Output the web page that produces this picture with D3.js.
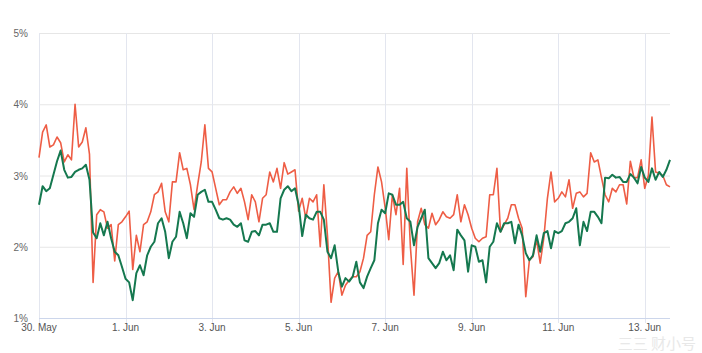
<!DOCTYPE html>
<html>
<head>
<meta charset="utf-8">
<script src="https://cdn.jsdelivr.net/npm/d3@7"></script>
<style>
  body { margin: 0; background: #fff; }
  svg { font-family: "Liberation Sans", Arial, sans-serif; }
</style>
</head>
<body>
<svg id="chart" width="702" height="353"></svg>
<script>
// 2-hourly readings starting 30 May 00:00
let startTime = new Date(2022, 4, 30, 0, 0);
let stepHours = 2;

let redSeries = [
  3.25, 3.61, 3.71, 3.40, 3.43, 3.54, 3.46, 3.19, 3.29, 3.22, 4.00, 3.40,
  3.47, 3.67, 3.30, 1.50, 2.45, 2.52, 2.49, 2.26, 2.31, 1.80, 2.31, 2.35,
  2.42, 2.50, 1.68, 2.16, 1.93, 2.31, 2.35, 2.49, 2.73, 2.77, 2.89, 2.49,
  2.35, 2.91, 2.91, 3.32, 3.08, 3.10, 2.87, 2.52, 2.87, 3.19, 3.71, 3.10,
  3.05, 2.82, 2.59, 2.66, 2.66, 2.77, 2.84, 2.75, 2.82, 2.63, 2.38, 2.73,
  2.63, 2.35, 2.68, 2.73, 3.05, 2.91, 3.10, 2.82, 3.18, 3.02, 3.05, 3.08,
  2.50, 2.68, 2.40, 2.68, 2.63, 2.73, 2.00, 2.87, 2.16, 1.22, 1.56, 1.65,
  1.32, 1.46, 1.53, 1.58, 1.58, 1.65, 1.84, 2.16, 2.21, 2.73, 3.12, 2.91,
  2.55, 2.10, 2.73, 2.45, 2.82, 1.75, 3.10, 2.00, 1.32, 2.35, 2.54, 2.31,
  2.26, 2.47, 2.31, 2.38, 2.49, 2.42, 2.40, 2.45, 2.73, 2.35, 2.59, 2.45,
  2.26, 2.12, 2.07, 2.12, 2.14, 2.73, 2.73, 3.10, 2.21, 2.31, 2.40, 2.59,
  2.59, 2.40, 2.26, 1.30, 1.81, 1.86, 2.10, 1.77, 2.12, 2.68, 3.05, 2.63,
  2.68, 2.77, 2.70, 2.94, 2.54, 2.75, 2.77, 2.70, 2.75, 3.32, 3.19, 3.22,
  2.97, 2.73, 2.63, 2.82, 2.77, 2.87, 2.87, 2.60, 3.20, 2.97, 2.97, 3.22,
  2.82, 3.00, 3.82, 3.05, 3.03, 3.00, 2.87, 2.84
];

let greenSeries = [
  2.59, 2.85, 2.78, 2.82, 3.01, 3.20, 3.35, 3.08, 2.97, 2.98, 3.05, 3.08,
  3.10, 3.15, 2.94, 2.20, 2.12, 2.33, 2.16, 2.35, 2.12, 1.93, 1.88, 1.72,
  1.55, 1.50, 1.25, 1.63, 1.74, 1.60, 1.88, 2.00, 2.07, 2.33, 2.40, 2.21,
  1.84, 2.07, 2.14, 2.49, 2.33, 2.12, 2.47, 2.42, 2.73, 2.77, 2.80, 2.63,
  2.63, 2.52, 2.40, 2.38, 2.40, 2.38, 2.31, 2.28, 2.33, 2.09, 2.07, 2.21,
  2.22, 2.16, 2.31, 2.31, 2.33, 2.21, 2.21, 2.68, 2.80, 2.85, 2.78, 2.82,
  2.59, 2.15, 2.45, 2.40, 2.38, 2.49, 2.49, 2.38, 1.93, 1.84, 2.02, 1.65,
  1.44, 1.56, 1.51, 1.58, 1.79, 1.50, 1.42, 1.58, 1.70, 1.81, 2.33, 2.52,
  2.47, 2.75, 2.73, 2.59, 2.59, 2.63, 2.40, 2.35, 2.02, 2.28, 2.40, 2.52,
  1.84, 1.77, 1.70, 1.77, 1.93, 1.81, 1.88, 1.67, 2.24, 2.16, 2.09, 1.65,
  2.02, 2.00, 1.79, 1.81, 1.50, 2.00, 2.07, 2.33, 2.21, 2.33, 2.33, 2.35,
  2.05, 2.31, 2.16, 1.91, 1.81, 1.88, 2.16, 1.93, 2.19, 2.22, 1.98, 2.22,
  2.19, 2.22, 2.33, 2.35, 2.40, 2.54, 2.02, 2.35, 2.22, 2.49, 2.49, 2.42,
  2.33, 2.97, 2.96, 3.01, 2.97, 2.98, 2.91, 2.91, 3.02, 2.97, 2.89, 3.12,
  2.97, 2.91, 3.10, 2.94, 3.05, 2.98, 3.08, 3.22
];

let yTicks = [1, 2, 3, 4, 5];
let xTickDays = [30, 1, 3, 5, 7, 9, 11, 13];
let monthNames = ["Jan","Feb","Mar","Apr","May","Jun","Jul","Aug","Sep","Oct","Nov","Dec"];

let times = redSeries.map((d, i) => new Date(startTime.getTime() + i * stepHours * 3600 * 1000));
let redData = redSeries.map((v, i) => ({t: times[i], v: v}));
let greenData = greenSeries.map((v, i) => ({t: times[i], v: v}));

let margin = {left: 39, right: 32, top: 33, bottom: 35};
let svg = d3.select("#chart");
let svgwidth = 702, svgheight = 353;

let xscale = d3.scaleTime()
  .domain([startTime, times[times.length - 1]])
  .range([margin.left, svgwidth - margin.right]);
let yscale = d3.scaleLinear()
  .domain([1, 5])
  .range([svgheight - margin.bottom, margin.top]);

let tickDates = xTickDays.map((d, i) => new Date(2022, i == 0 ? 4 : 5, d));

// grid lines
svg.append("g").selectAll("line")
  .data(yTicks.filter(d => d > 1))
  .join("line")
  .attr("x1", margin.left).attr("x2", svgwidth - margin.right)
  .attr("y1", d => yscale(d) + 0.5).attr("y2", d => yscale(d) + 0.5)
  .attr("stroke", "#e6e6e6").attr("stroke-width", 1);

svg.append("g").selectAll("line")
  .data(tickDates)
  .join("line")
  .attr("x1", d => Math.round(xscale(d)) + 0.5).attr("x2", d => Math.round(xscale(d)) + 0.5)
  .attr("y1", margin.top).attr("y2", yscale(1) + 5)
  .attr("stroke", "#e3e6ef").attr("stroke-width", 1);

// x axis line
svg.append("line")
  .attr("x1", margin.left).attr("x2", svgwidth - margin.right)
  .attr("y1", yscale(1) + 0.5).attr("y2", yscale(1) + 0.5)
  .attr("stroke", "#ccd6eb");

// y labels
svg.append("g").selectAll("text")
  .data(yTicks)
  .join("text")
  .attr("x", 28).attr("y", d => yscale(d) + 4)
  .attr("text-anchor", "end")
  .attr("font-size", 10).attr("fill", "#666")
  .text(d => d + "%");

// x labels
svg.append("g").selectAll("text")
  .data(tickDates)
  .join("text")
  .attr("x", d => xscale(d)).attr("y", yscale(1) + 13)
  .attr("text-anchor", "middle")
  .attr("font-size", 10).attr("fill", "#555")
  .text(d => d.getDate() + ". " + monthNames[d.getMonth()]);

let dline = d3.line()
  .x(d => xscale(d.t))
  .y(d => yscale(d.v));

svg.append("path")
  .datum(redData)
  .attr("fill", "none")
  .attr("stroke", "#ee5d45")
  .attr("stroke-width", 1.6)
  .attr("stroke-linejoin", "round")
  .attr("d", dline);

svg.append("path")
  .datum(greenData)
  .attr("fill", "none")
  .attr("stroke", "#15784f")
  .attr("stroke-width", 2)
  .attr("stroke-linejoin", "round")
  .attr("d", dline);

// faint watermark, kept below the date labels
svg.append("text")
  .attr("x", 696).attr("y", 349)
  .attr("text-anchor", "end")
  .attr("font-size", 15)
  .attr("font-family", "Noto Sans CJK SC")
  .attr("fill", "#e8e8e8")
  .text("三三 财小号");
</script>
</body>
</html>
